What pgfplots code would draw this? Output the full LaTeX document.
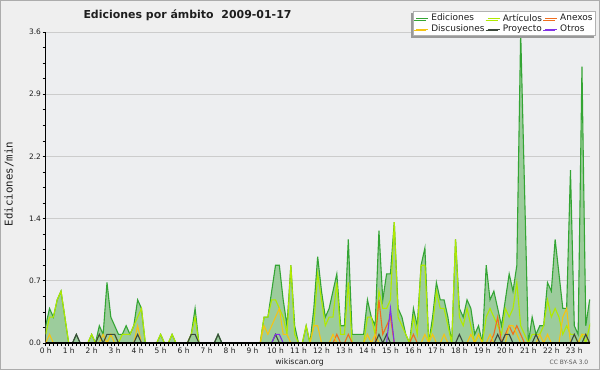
\documentclass[border=0pt]{standalone}
\usepackage{fontspec}
\setmainfont{DejaVu Sans}
\setmonofont{DejaVu Sans Mono}
\usepackage{pgfplots}
\pgfplotsset{compat=1.18}
\usepackage{pgfplotstable}
\usetikzlibrary{shadows}

\definecolor{bgout}{RGB}{239,239,239}
\definecolor{bgplot}{RGB}{237,238,240}
\definecolor{Ecol}{RGB}{52,165,52}
\definecolor{Efill}{RGB}{156,204,156}
\definecolor{Acol}{RGB}{176,234,0}
\definecolor{Dcol}{RGB}{244,196,20}
\definecolor{Xcol}{RGB}{240,110,30}
\definecolor{Pcol}{RGB}{60,72,60}
\definecolor{Ocol}{RGB}{130,50,230}
\definecolor{txt}{RGB}{30,30,30}

\pgfplotstableread{
i E A D X P O
0 0.2 0.1 0 0 0 0
1 0.4 0.3 0.1 0 0 0
2 0.3 0.3 0 0 0 0
3 0.5 0.5 0 0 0 0
4 0.6 0.6 0 0 0 0
5 0.3 0.3 0 0 0 0
6 0 0 0 0 0 0
7 0 0 0 0 0 0
8 0.1 0 0 0 0.1 0
9 0 0 0 0 0 0
10 0 0 0 0 0 0
11 0 0 0 0 0 0
12 0.1 0.1 0 0 0 0
13 0 0 0 0 0 0
14 0.2 0.1 0 0 0.1 0
15 0.1 0 0.1 0 0 0
16 0.7 0 0 0 0.1 0
17 0.3 0.1 0.1 0 0.1 0
18 0.2 0.1 0 0 0.1 0
19 0.1 0 0 0 0 0
20 0.1 0.1 0 0 0 0
21 0.2 0.1 0 0 0 0
22 0.1 0.1 0 0 0 0
23 0.2 0.2 0 0 0 0
24 0.5 0.3 0.2 0 0.1 0
25 0.4 0.4 0 0 0 0
26 0 0 0 0 0 0
27 0 0 0 0 0 0
28 0 0 0 0 0 0
29 0 0 0 0 0 0
30 0.1 0.1 0 0 0 0
31 0 0 0 0 0 0
32 0 0 0 0 0 0
33 0.1 0.1 0 0 0 0
34 0 0 0 0 0 0
35 0 0 0 0 0 0
36 0 0 0 0 0 0
37 0 0 0 0 0 0
38 0.1 0.1 0 0 0.1 0
39 0.4 0.3 0 0 0.1 0
40 0 0 0 0 0 0
41 0 0 0 0 0 0
42 0 0 0 0 0 0
43 0 0 0 0 0 0
44 0 0 0 0 0 0
45 0.1 0 0 0 0.1 0
46 0 0 0 0 0 0
47 0 0 0 0 0 0
48 0 0 0 0 0 0
49 0 0 0 0 0 0
50 0 0 0 0 0 0
51 0 0 0 0 0 0
52 0 0 0 0 0 0
53 0 0 0 0 0 0
54 0 0 0 0 0 0
55 0 0 0 0 0 0
56 0 0 0 0 0 0
57 0.3 0.3 0.2 0 0 0
58 0.3 0.3 0.1 0 0 0
59 0.6 0.5 0.2 0 0 0
60 0.9 0.5 0.3 0 0.1 0.1
61 0.9 0.4 0.4 0 0 0.1
62 0.5 0.3 0.1 0 0 0
63 0.2 0.1 0.1 0 0 0
64 0.9 0.9 0 0 0 0
65 0.2 0.1 0 0 0 0
66 0 0 0 0 0 0
67 0 0 0 0 0 0
68 0.2 0.2 0 0 0 0
69 0 0 0 0 0 0
70 0.4 0.2 0.2 0 0 0
71 1.0 0.8 0.2 0 0 0
72 0.6 0.5 0 0 0 0
73 0.3 0.2 0 0 0 0
74 0.4 0.3 0 0 0 0
75 0.6 0.3 0.1 0 0 0
76 0.8 0.7 0 0.1 0 0
77 0.2 0.1 0 0 0 0
78 0.2 0.1 0 0 0 0
79 1.2 0.7 0 0.1 0 0
80 0.1 0 0 0 0 0
81 0.1 0 0 0 0 0
82 0.1 0 0 0 0 0
83 0.1 0 0 0 0 0
84 0.5 0.3 0.1 0 0 0
85 0.3 0.3 0 0 0 0
86 0.2 0.1 0.1 0 0 0
87 1.3 0.6 0 0.5 0.1 0
88 0.5 0.4 0 0.1 0 0
89 0.8 0.4 0 0.2 0.1 0
90 0.8 0.5 0 0.3 0 0.4
91 1.4 1.4 0 0 0 0
92 0.4 0.3 0 0 0 0
93 0.3 0.2 0 0 0 0
94 0.1 0.1 0 0 0 0
95 0 0 0 0 0 0
96 0.4 0.3 0 0.1 0 0
97 0.2 0.1 0 0 0 0
98 0.9 0.9 0 0 0 0
99 1.1 0.9 0.1 0 0 0
100 0 0 0 0 0 0
101 0.3 0.2 0.1 0 0 0
102 0.7 0.6 0 0 0 0
103 0.5 0.4 0 0 0 0
104 0.5 0.4 0.1 0 0 0
105 0.3 0.2 0 0 0 0
106 0 0 0 0 0 0
107 1.2 1.2 0 0 0 0
108 0.4 0.3 0 0 0.1 0
109 0.3 0.2 0 0 0 0
110 0.5 0.4 0 0 0 0
111 0.4 0.2 0.1 0 0 0
112 0.1 0 0 0 0 0
113 0.2 0.1 0.1 0 0 0
114 0 0 0 0 0 0
115 0.9 0.3 0 0 0 0
116 0.5 0.4 0.1 0 0 0
117 0.6 0.3 0 0.1 0 0
118 0.4 0.2 0 0.3 0.1 0
119 0.2 0.1 0 0 0 0
120 0.5 0.4 0 0.1 0.1 0
121 0.8 0.3 0.2 0.2 0.1 0
122 0.6 0.4 0.2 0.1 0 0
123 0.9 0.7 0.1 0.2 0 0
124 3.6 0.2 0 0.1 0 0
125 1.8 0.1 0 0 0 0
126 0 0 0 0 0 0
127 0.3 0.1 0 0 0 0
128 0.1 0.1 0 0 0.1 0
129 0.2 0.1 0.1 0 0 0
130 0.2 0.2 0 0 0 0
131 0.7 0.5 0.1 0 0 0
132 0.6 0.3 0 0 0 0
133 1.2 0.4 0 0 0 0
134 0.8 0.3 0 0 0 0
135 0.4 0.1 0.3 0 0 0
136 0.4 0.2 0.4 0 0 0
137 2.0 0.1 0 0 0 0
138 0.2 0.1 0 0 0.1 0
139 0.1 0 0 0 0 0
140 3.2 0.1 0.1 0 0 0
141 0.2 0 0.1 0 0.1 0
142 0.5 0.2 0 0 0 0
143 0.5 0.3 0 0 0 0
}\data

\begin{document}
\begin{tikzpicture}
\fill[bgout] (0,0) rectangle (600bp,370bp);
\draw[gray!65, line width=1bp] (0.5bp,0.5bp) rectangle (599.5bp,369.5bp);
\begin{axis}[
  at={(45.7bp,27bp)}, anchor=south west, scale only axis,
  width=544.3bp, height=311bp,
  xmin=0, xmax=142.1, ymin=0, ymax=3.6,
  clip mode=individual,
  axis background/.style={fill=bgplot},
  axis x line*=bottom, axis y line*=left,
  axis line style={black, line width=0.8bp},
  xtick={0,6,...,138},
  xticklabels={0 h,1 h,2 h,3 h,4 h,5 h,6 h,7 h,8 h,9 h,10 h,11 h,12 h,13 h,14 h,15 h,16 h,17 h,18 h,19 h,20 h,21 h,22 h,23 h},
  minor x tick num=5,
  ytick={0,0.72,1.44,2.16,2.88,3.6},
  yticklabels={0.0,0.7,1.4,2.2,2.9,3.6},
  minor y tick num=3,
  tick align=outside,
  major tick length=3bp, minor tick length=3bp,
  tick style={black, line width=0.6bp},
  ticklabel style={font=\fontsize{7.5}{8}\selectfont, text=txt},
  xticklabel style={inner sep=1.5bp},
  yticklabel style={inner sep=1.5bp},
  ymajorgrids, grid style={gray!40, line width=0.8bp},
  legend columns=3,
  legend cell align=left,
  legend image code/.code={\draw[#1, line width=0.7bp] (0bp,0bp) -- (12bp,0bp);},
  legend style={at={(1.011,1.0675)}, anchor=north east, draw=gray!60, fill=white,
    line width=0.6bp, font=\fontsize{9}{9}\selectfont, text=txt,
    inner xsep=2.5bp, inner ysep=2bp, row sep=1bp, column sep=2.2bp,
    nodes={inner sep=0.6bp},
    drop shadow={shadow xshift=-2bp, shadow yshift=-2bp, fill=gray!80, opacity=1}},
]
\addplot[fill=Efill, draw=none, forget plot] table[x=i,y=E]{\data} \closedcycle;
\addplot[Ecol, line width=1.1bp] table[x=i,y=E]{\data};
\addlegendentry{Ediciones}
\addplot[Acol, line width=1.1bp] table[x=i,y=A]{\data};
\addlegendentry{Artículos}
\addplot[Xcol, line width=1.1bp] table[x=i,y=X]{\data};
\addlegendentry{Anexos}
\addplot[Dcol, line width=1.1bp] table[x=i,y=D]{\data};
\addlegendentry{Discusiones}
\addplot[Pcol, line width=1.1bp] table[x=i,y=P]{\data};
\addlegendentry{Proyecto}
\addplot[Ocol, line width=1.1bp] table[x=i,y=O]{\data};
\addlegendentry{Otros}
\draw[black, line width=1.5bp] (rel axis cs:0,0) -- (rel axis cs:1,0);
\end{axis}
\node[anchor=base, font=\bfseries\fontsize{11}{11}\selectfont, text=txt] at (187.5bp,351.7bp) {Ediciones por ámbito\hspace{0.7em}2009-01-17};
\node[rotate=90, font=\ttfamily\fontsize{10.8}{11}\selectfont, text=txt] at (9bp,186bp) {Ediciones/min};
\node[anchor=base, font=\fontsize{7.8}{8}\selectfont, text=txt] at (299.5bp,5.5bp) {wikiscan.org};
\node[anchor=base, font=\fontsize{6}{6}\selectfont, text=black!65] at (569bp,5.5bp) {CC BY-SA 3.0};
\pgfresetboundingbox
\path (0,0) rectangle (600bp,370bp);
\end{tikzpicture}
\end{document}
